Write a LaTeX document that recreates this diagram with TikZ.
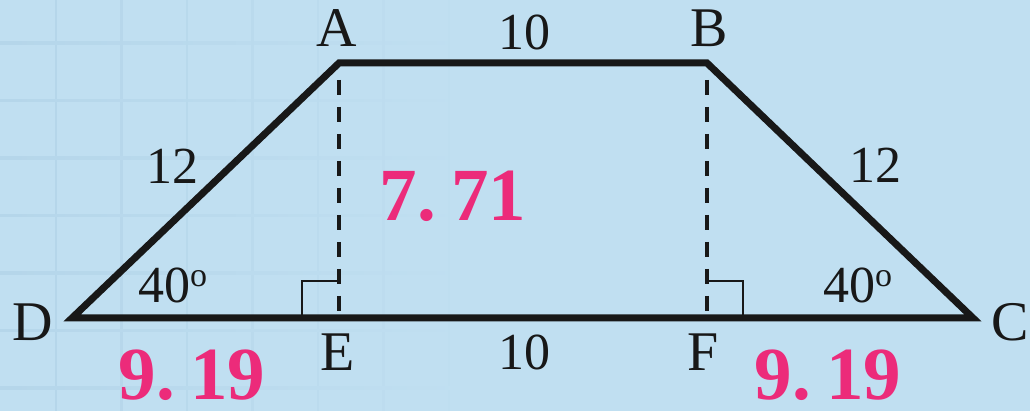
\documentclass[tikz,border=0pt]{standalone}
\usepackage{fontspec}
\setmainfont{Liberation Serif}
\definecolor{ink}{RGB}{24,24,24}
\definecolor{hotpink}{RGB}{236,43,122}
\definecolor{bgblue}{RGB}{192,223,241}
\definecolor{gridblue}{RGB}{181,214,234}
\begin{document}
\begin{tikzpicture}[x=1pt,y=-1pt,
  edge/.style={line width=7pt, line join=miter, draw=ink},
  heightline/.style={line width=4pt, draw=ink, dash pattern=on 15pt off 12pt},
  rightangle/.style={line width=2.5pt, draw=ink},
  vlabel/.style={inner sep=0pt, font=\fontsize{56}{60}\selectfont, text=ink},
  mlabel/.style={inner sep=0pt, font=\fontsize{52}{56}\selectfont, text=ink},
  result/.style={inner sep=0pt, font=\fontsize{75}{78}\selectfont\bfseries, text=hotpink}]
% background
\fill[bgblue] (0,0) rectangle (1030,411);
\useasboundingbox (0,0) rectangle (1030,411);
% faint grid on the left, fading to the right
\foreach \k in {0,...,6}{
  \pgfmathsetmacro{\gx}{56+65.5*\k}
  \pgfmathsetmacro{\gp}{100-14*\k}
  \draw[line width=2.5pt, draw=gridblue!\gp!bgblue] (\gx,0) -- (\gx,411);
  \pgfmathsetmacro{\gy}{43+57.5*\k}
  \shade[left color=gridblue, right color=bgblue] (0,\gy-1.25) rectangle (470,\gy+1.25);
}
% vertices
\coordinate (A) at (339,63);
\coordinate (B) at (707,63);
\coordinate (C) at (973,318);
\coordinate (D) at (72,318);
\coordinate (E) at (339,318);
\coordinate (F) at (707,318);
% heights
\draw[heightline] ([yshift=-17pt]A) -- (E);
\draw[heightline] ([yshift=-17pt]B) -- (F);
% right angle marks
\draw[rightangle] ([xshift=-37pt]E) -- ++(0,-37) -- ([yshift=37pt]E);
\draw[rightangle] ([xshift=36pt]F) -- ++(0,-37) -- ([yshift=37pt]F);
% trapezoid
\draw[edge] (D) -- (A) -- (B) -- (C) -- cycle;
% vertex labels
\node[vlabel] (lA) at (337,28) {A};
\node[vlabel] (lB) at (709,28) {B};
\node[vlabel] (lC) at (1010,322) {C};
\node[vlabel] (lD) at (33,322) {D};
\node[vlabel] (lE) at (338,352) {E};
\node[vlabel] (lF) at (703,352) {F};
% measures
\node[mlabel] (top) at (524,32) {10};
\node[mlabel] (bottom) at (524,352) {10};
\node[mlabel] (left) at (172,166) {12};
\node[mlabel] (right) at (875,165) {12};
\node[mlabel, anchor=west] (angD) at (138,285) {40\raisebox{16pt}{\fontsize{34}{34}\selectfont o}};
\node[mlabel, anchor=west] (angC) at (823,285) {40\raisebox{16pt}{\fontsize{34}{34}\selectfont o}};
% results
\node[result] (h) at (453,196) {7.\kern0.2em 71};
\node[result] (dl) at (192,375) {9.\kern0.2em 19};
\node[result] (dr) at (828,375) {9.\kern0.2em 19};
\end{tikzpicture}
\end{document}
